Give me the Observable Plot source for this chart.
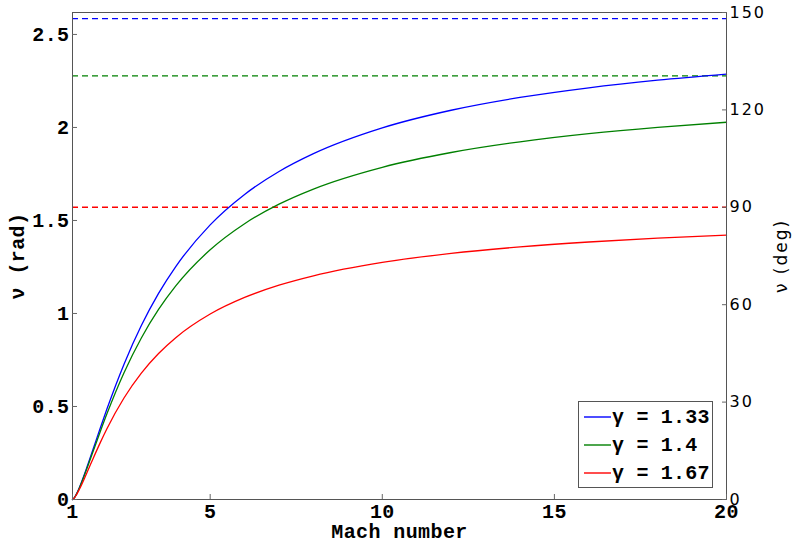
<!DOCTYPE html>
<html>
<head>
<meta charset="utf-8">
<script src="https://cdn.jsdelivr.net/npm/d3@7"></script>
<script src="https://cdn.jsdelivr.net/npm/@observablehq/plot@0.6"></script>
<style>
  html, body { margin: 0; padding: 0; background: white; }
  #wrap { position: relative; width: 800px; height: 545px; }
  #legend { position: absolute; left: 578px; top: 401px; width: 135px; height: 87px;
            border: 1px solid #555; background: white; box-sizing: border-box; }
  .row { position: absolute; left: 0; height: 24px; width: 132px; }
  .swatch { position: absolute; left: 5px; top: 9px; display: block; }
  .lab { position: absolute; left: 33px; top: 0px; line-height: 22px; font: bold 20px "Liberation Mono", monospace;
         letter-spacing: 0.2px; white-space: pre; color: black; }
</style>
</head>
<body>
<div id="wrap"></div>
<script>
// ---- data ----
const machs = [1, 1.05, 1.1, 1.2, 1.4, 1.6, 1.8, 2, 2.5, 3, 3.5, 4, 5, 6, 7, 8, 10, 12, 14, 16, 18, 20];
const nuBlue  = [0, 0.00876, 0.02406, 0.06424, 0.16317, 0.27128, 0.38029, 0.48639, 0.72906, 0.93526, 1.10784, 1.25218, 1.47637, 1.63997, 1.76335, 1.85920, 1.99771, 2.09248, 2.16122, 2.21327, 2.25401, 2.28676];
const nuGreen = [0, 0.00851, 0.02332, 0.06210, 0.15685, 0.25937, 0.36172, 0.46041, 0.68284, 0.86842, 1.02154, 1.14817, 1.34251, 1.48276, 1.58777, 1.66897, 1.78575, 1.86538, 1.92300, 1.96656, 2.00064, 2.02799];
const nuRed   = [0, 0.00762, 0.02079, 0.05481, 0.13587, 0.22082, 0.30310, 0.38025, 0.54707, 0.67967, 0.78518, 0.87012, 0.99696, 1.08624, 1.15207, 1.20245, 1.27423, 1.32280, 1.35777, 1.38414, 1.40473, 1.42123];
const limits = [2.585, 2.277, 1.571];           // asymptotes (dashed), rad
const legendLabels = ["γ = 1.33", "γ = 1.4", "γ = 1.67"];
const colors = ["#0000ff", "#008000", "#ff0000"];
const xTicks = [1, 5, 10, 15, 20];
const yTicks = [0, 0.5, 1, 1.5, 2, 2.5];
const yTickLabels = ["0", "0.5", "1", "1.5", "2", "2.5"];
const degTicks = [0, 30, 60, 90, 120, 150];
const xDomain = [1, 20];
const yMaxDeg = 150;

// ---- tables built from the arrays ----
const seriesValues = [nuBlue, nuGreen, nuRed];
const rows = seriesValues.flatMap((vals, s) => machs.map((m, i) => ({M: m, nu: vals[i], label: legendLabels[s]})));
const limitRows = limits.map((v, s) => ({nu: v, label: legendLabels[s]}));
const yMax = yMaxDeg * Math.PI / 180;
const degAsRad = degTicks.map(d => d * Math.PI / 180);

const mono = "Liberation Mono";
const sans = "DejaVu Sans";

const chart = Plot.plot({
  width: 800, height: 545,
  marginLeft: 72, marginRight: 74, marginTop: 12, marginBottom: 46,
  x: {domain: xDomain},
  y: {domain: [0, yMax]},
  color: {domain: legendLabels, range: colors},
  style: {fontFamily: mono, fontSize: "20px", fontWeight: "bold", background: "white", color: "black", letterSpacing: "0.4px"},
  marks: [
    Plot.ruleY(limitRows, {y: "nu", stroke: "label", strokeDasharray: "6,4", strokeWidth: 1.3}),
    Plot.line(rows, {x: "M", y: "nu", z: "label", stroke: "label", curve: "monotone-x", strokeWidth: 1.3}),
    Plot.frame({stroke: "#555"}),
    // inward ticks
    Plot.axisY({anchor: "left", ticks: yTicks, tickSize: 5, dx: 5, tickFormat: () => "", label: null, stroke: "#666"}),
    Plot.axisX({anchor: "bottom", ticks: xTicks, tickSize: 5, dy: -5, tickFormat: () => "", label: null, stroke: "#666"}),
    Plot.axisY({anchor: "right", ticks: degAsRad, tickSize: 5, dx: -5, tickFormat: () => "", label: null, stroke: "#666"}),
    // tick labels
    Plot.axisY({anchor: "left", ticks: yTicks, tickSize: 0, tickPadding: 3,
      tickFormat: d => yTickLabels[yTicks.indexOf(d)], label: null, fontFamily: mono, fontSize: 20}),
    Plot.axisX({anchor: "bottom", ticks: xTicks, tickSize: 0, tickPadding: 4,
      tickFormat: d => String(d), label: null, fontFamily: mono, fontSize: 20}),
    Plot.axisY({anchor: "right", ticks: degAsRad, tickSize: 0, tickPadding: 3,
      tickFormat: d => String(Math.round(d * 180 / Math.PI)), label: null, fontFamily: sans, fontSize: 16, fontWeight: "normal"}),
    // axis titles
    Plot.text(["ν (rad)"], {text: d => d, frameAnchor: "left", dx: -55, rotate: -90, textAnchor: "middle", lineAnchor: "middle", fontFamily: mono, fontSize: 20}),
    Plot.text(["ν (deg)"], {text: d => d, frameAnchor: "right", dx: 55, rotate: -90, textAnchor: "middle", lineAnchor: "middle", fontFamily: sans, fontSize: 17, fontWeight: "normal"}),
    Plot.text(["Mach number"], {text: d => d, frameAnchor: "bottom", dy: 32, textAnchor: "middle", lineAnchor: "middle", fontFamily: mono, fontSize: 20})
  ]
});

// letter spacing for the (wide) sans labels on the right
d3.select(chart).selectAll("g[font-family='" + sans + "']").style("letter-spacing", "2px");

const wrap = document.getElementById("wrap");
wrap.appendChild(chart);

// legend
const legend = d3.select(wrap).append("div").attr("id", "legend");
const rowTops = [3.7, 31.5, 59.5];
legendLabels.forEach((lab, i) => {
  const r = legend.append("div").attr("class", "row").style("top", rowTops[i] + "px");
  const sw = r.append("svg").attr("class", "swatch").attr("width", 27).attr("height", 4);
  sw.append("line").attr("x1", 0).attr("x2", 27).attr("y1", 2).attr("y2", 2)
    .attr("stroke", colors[i]).attr("stroke-width", 1.4);
  r.append("div").attr("class", "lab").text(lab);
});
</script>
</body>
</html>
